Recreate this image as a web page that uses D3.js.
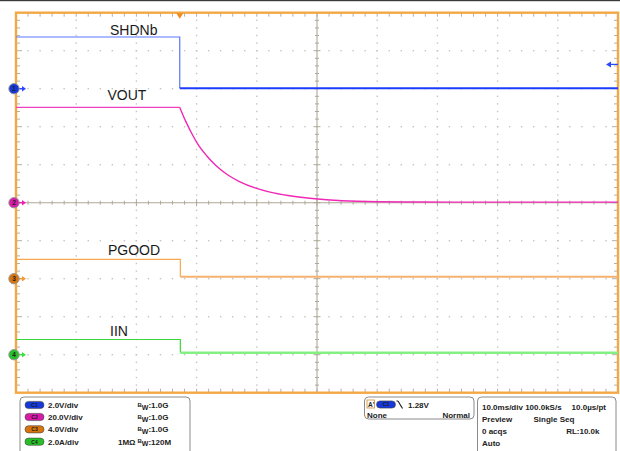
<!DOCTYPE html>
<html>
<head>
<meta charset="utf-8">
<script src="https://cdn.jsdelivr.net/npm/d3@7"></script>
<style>
  html, body { margin: 0; padding: 0; background: #fff; }
  svg { display: block; font-family: "Liberation Sans", Arial, sans-serif; }
</style>
</head>
<body>
<div id="scope"></div>
<script>
(function(){

// channel settings
var chNames   = ["C1", "C2", "C3", "C4"];
var chLabels  = ["SHDNb", "VOUT", "PGOOD", "IIN"];
var chColors  = ["#2a48ff", "#f020b4", "#f39a38", "#3ee03e"];
var chBadge   = ["#1638d8", "#d81aa8", "#d8740e", "#28c028"];
var chPerDiv  = [2.0, 20.0, 4.0, 2.0];       // units per division
var chOffset  = [3, 0, -2, -4];              // ground marker, divisions from centre
var chUnits   = ["V/div", "V/div", "V/div", "A/div"];
var chBw      = ["1.0G", "1.0G", "1.0G", "120M"];

// time window (ms, trigger at 0), 10 ms/div
var timeRange = [-27.2, 72.8];

// traces
var shdnT = [-27.2, 0, 0, 72.8];
var shdnV = [2.72, 2.72, 0.02, 0.02];

var voutT = [-27.2, 0, 1, 2, 3, 4.5, 6, 8, 10, 12.5, 15, 18, 22, 27, 33, 40, 50, 72.8];
var voutV = [50.2, 50.2, 42.8, 36.4, 30.8, 24.6, 19.6, 14.6, 11.0, 7.8, 5.6, 3.8, 2.2, 1.0, 0.5, 0.35, 0.3, 0.3];

var pgoodT = [-27.2, 0.1, 0.1, 72.8];
var pgoodV = [2.04, 2.04, 0.2, 0.2];

var iinT = [-27.2, 0.1, 0.1, 72.8];
var iinV = [0.8, 0.8, 0.1, 0.1];

var trigLevel = 1.28;

var W = 620, H = 451;
var plot = {left: 16, right: 618, top: 12.7, bottom: 392.7};

var svg = d3.select("#scope").append("svg")
  .attr("width", W).attr("height", H);

var x = d3.scaleLinear().domain(timeRange).range([plot.left, plot.right]);
var yDiv = d3.scaleLinear().domain([-5, 5]).range([plot.bottom, plot.top]);
var xDiv = d3.scaleLinear().domain([0, 10]).range([plot.left, plot.right]);

function yCh(i) {
  return function(v) { return yDiv(chOffset[i] + v / chPerDiv[i]); };
}

// top dark edge
svg.append("rect").attr("x", 0).attr("y", 0).attr("width", W).attr("height", 1.2).attr("fill", "#3a3a3a");

var grid = svg.append("g");

// dotted graticule
var sub = d3.range(1, 50);
[1,2,3,4,6,7,8,9].forEach(function(d){
  grid.selectAll(null).data(sub).enter().append("rect")
    .attr("x", function(k){ return xDiv(k / 5) - 0.7; })
    .attr("y", yDiv(d - 5) - 0.7)
    .attr("width", 1.4).attr("height", 1.4)
    .attr("fill", "#c4c4c4");
  grid.selectAll(null).data(sub).enter().append("rect")
    .attr("x", xDiv(d) - 0.7)
    .attr("y", function(k){ return yDiv(k / 5 - 5) - 0.7; })
    .attr("width", 1.4).attr("height", 1.4)
    .attr("fill", "#c4c4c4");
});

// centre cross
var cx = xDiv(5), cy = yDiv(0);
grid.append("line").attr("x1", plot.left).attr("x2", plot.right).attr("y1", cy).attr("y2", cy)
  .attr("stroke", "#b0a898").attr("stroke-width", 1.1);
grid.append("line").attr("y1", plot.top).attr("y2", plot.bottom).attr("x1", cx).attr("x2", cx)
  .attr("stroke", "#b0a898").attr("stroke-width", 1.1);
grid.selectAll(null).data(sub).enter().append("line")
  .attr("x1", function(k){ return xDiv(k / 5); })
  .attr("x2", function(k){ return xDiv(k / 5); })
  .attr("y1", function(k){ return cy - (k % 5 ? 2 : 3.5); })
  .attr("y2", function(k){ return cy + (k % 5 ? 2 : 3.5); })
  .attr("stroke", "#b0a898");
grid.selectAll(null).data(sub).enter().append("line")
  .attr("y1", function(k){ return yDiv(k / 5 - 5); })
  .attr("y2", function(k){ return yDiv(k / 5 - 5); })
  .attr("x1", function(k){ return cx - (k % 5 ? 2 : 3.5); })
  .attr("x2", function(k){ return cx + (k % 5 ? 2 : 3.5); })
  .attr("stroke", "#b0a898");

// border ticks
grid.selectAll(null).data(sub).enter().append("line")
  .attr("x1", function(k){ return xDiv(k / 5); })
  .attr("x2", function(k){ return xDiv(k / 5); })
  .attr("y1", plot.top).attr("y2", plot.top + 4)
  .attr("stroke", "#b0b0b0");
grid.selectAll(null).data(sub).enter().append("line")
  .attr("x1", function(k){ return xDiv(k / 5); })
  .attr("x2", function(k){ return xDiv(k / 5); })
  .attr("y1", plot.bottom).attr("y2", plot.bottom - 4)
  .attr("stroke", "#b0b0b0");
grid.selectAll(null).data(sub).enter().append("line")
  .attr("y1", function(k){ return yDiv(k / 5 - 5); })
  .attr("y2", function(k){ return yDiv(k / 5 - 5); })
  .attr("x1", plot.left).attr("x2", function(k){ return plot.left + (k % 5 ? 4 : 6); })
  .attr("stroke", "#b0b0b0");
grid.selectAll(null).data(sub).enter().append("line")
  .attr("y1", function(k){ return yDiv(k / 5 - 5); })
  .attr("y2", function(k){ return yDiv(k / 5 - 5); })
  .attr("x1", plot.right).attr("x2", function(k){ return plot.right - (k % 5 ? 4 : 6); })
  .attr("stroke", "#b0b0b0");

// orange frame
svg.append("rect")
  .attr("x", plot.left).attr("y", plot.top)
  .attr("width", plot.right - plot.left).attr("height", plot.bottom - plot.top)
  .attr("fill", "none").attr("stroke", "#f2a844").attr("stroke-width", 2.4);

// traces
var traces = [[shdnT, shdnV], [voutT, voutV], [pgoodT, pgoodV], [iinT, iinV]];
var preColor  = ["#5a76ff", "#f040c0", "#f7a850", "#3ad83a"];
var postColor = ["#1c3cff", "#f028b6", "#f6b070", "#84f084"];
var postWidth = [2, 1.4, 2, 2.6];

traces.forEach(function(tr, i){
  var pts = tr[0].map(function(t, j){ return [t, tr[1][j]]; });
  var yy = yCh(i);
  var line = d3.line()
    .x(function(d){ return x(d[0]); })
    .y(function(d){ return yy(d[1]); })
    .curve(i === 1 ? d3.curveMonotoneX : d3.curveLinear);
  var prePts = pts.slice(0, i === 1 ? 2 : 3);
  var postPts = pts.slice(i === 1 ? 1 : 2);
  svg.append("path").attr("d", d3.line()
      .x(function(d){ return x(d[0]); })
      .y(function(d){ return yy(d[1]); })(prePts))
    .attr("fill", "none").attr("stroke", preColor[i]).attr("stroke-width", 1.2);
  svg.append("path").attr("d", line(postPts))
    .attr("fill", "none").attr("stroke", postColor[i]).attr("stroke-width", postWidth[i]);
  if (i === 0 || i === 2) {
    // darker core on the settled level
    svg.append("path").attr("d", line(postPts.slice(1)))
      .attr("fill", "none").attr("stroke", i === 0 ? "#1030f0" : "#e88a2a")
      .attr("stroke-width", 0.8).attr("stroke-dasharray", "6,2,3,3");
  }
});

// channel labels
var labelX = [110, 107.5, 108, 110];
var labelY = [35, 100, 255, 336];
svg.selectAll("text.lbl").data(chLabels).enter().append("text")
  .attr("class", "lbl")
  .attr("x", function(d, i){ return labelX[i]; })
  .attr("y", function(d, i){ return labelY[i]; })
  .attr("font-size", "14px").attr("fill", "#1a1a1a")
  .text(function(d){ return d; });

// ground markers
chNames.forEach(function(n, i){
  var gy = yDiv(chOffset[i]);
  var g = svg.append("g");
  g.append("line").attr("x1", 17).attr("x2", 24).attr("y1", gy).attr("y2", gy)
    .attr("stroke", chColors[i]).attr("stroke-width", 1.4);
  g.append("path").attr("d", "M22," + (gy - 2.8) + "L26," + gy + "L22," + (gy + 2.8) + "Z")
    .attr("fill", chColors[i]);
  g.append("circle").attr("cx", 14).attr("cy", gy).attr("r", 5.2)
    .attr("fill", chBadge[i]).attr("stroke", "#9a9a9a").attr("stroke-width", 1);
  g.append("text").attr("x", 14).attr("y", gy + 2.3).attr("text-anchor", "middle")
    .attr("font-size", "6.5px").attr("font-weight", "bold").attr("fill", "#222")
    .text(i + 1);
});

// trigger position
var tx = x(0);
svg.append("path").attr("d", "M" + (tx - 3.5) + "," + (plot.top + 0.5) + "L" + (tx + 3.5) + "," + (plot.top + 0.5) + "L" + tx + "," + (plot.top + 6) + "Z")
  .attr("fill", "#f28a20");

// trigger level arrow (right)
var ty = yCh(0)(trigLevel);
svg.append("line").attr("x1", 610).attr("x2", 618).attr("y1", ty).attr("y2", ty)
  .attr("stroke", "#2a48ff").attr("stroke-width", 1.2);
svg.append("path").attr("d", "M606," + ty + "L611," + (ty - 3) + "L611," + (ty + 3) + "Z")
  .attr("fill", "#2a48ff");

// ----- readout panel -----
var panel = svg.append("g").attr("font-size", "8px").attr("font-weight", "bold").attr("fill", "#222");

function box(x0, y0, w, h) {
  panel.append("rect").attr("x", x0).attr("y", y0).attr("width", w).attr("height", h)
    .attr("rx", 4).attr("fill", "#fff").attr("stroke", "#8a8a8a").attr("stroke-width", 1);
}
function badge(x0, yc, i) {
  panel.append("rect").attr("x", x0).attr("y", yc - 3.6).attr("width", 19).attr("height", 7.2)
    .attr("rx", 3.6).attr("fill", chBadge[i]).attr("stroke", "#444").attr("stroke-width", 0.6);
  panel.append("text").attr("x", x0 + 9.5).attr("y", yc + 1.9).attr("text-anchor", "middle")
    .attr("font-size", "5px").attr("fill", "#1a1a1a").text(chNames[i]);
}

box(20, 397, 170, 60);
var rowY = [405, 417, 429.3, 441.7];
chNames.forEach(function(n, i){
  badge(25, rowY[i], i);
  panel.append("text").attr("x", 48).attr("y", rowY[i] + 3)
    .text(chPerDiv[i].toFixed(1) + chUnits[i]);
  var t = panel.append("text").attr("x", 137.5).attr("y", rowY[i] + 3);
  t.append("tspan").attr("font-size", "6px").attr("dy", -1.5).text("B");
  t.append("tspan").attr("font-size", "7px").attr("dy", 3).text("W");
  t.append("tspan").attr("dy", -1.5).text(":" + chBw[i]);
});
panel.append("text").attr("x", 118).attr("y", rowY[3] + 3).text("1M\u03A9");

// trigger box
box(364.5, 397, 109.5, 22);
panel.append("rect").attr("x", 367).attr("y", 400).attr("width", 7.5).attr("height", 8)
  .attr("fill", "#fff").attr("stroke", "#d08a30").attr("stroke-width", 0.8);
panel.append("text").attr("x", 368).attr("y", 406.5).attr("font-size", "6.5px").text("A'");
badge(376.5, 404.5, 0);
panel.append("path").attr("d", "M398,401 L402.5,408.5").attr("stroke", "#222").attr("stroke-width", 1.2);
panel.append("path").attr("d", "M396.5,401 L398,401").attr("stroke", "#222").attr("stroke-width", 1.2);
panel.append("text").attr("x", 408).attr("y", 408).text(trigLevel.toFixed(2) + "V");
panel.append("text").attr("x", 367).attr("y", 417.5).text("None");
panel.append("text").attr("x", 470).attr("y", 417.5).attr("text-anchor", "end").text("Normal");

// acquisition box
box(477.5, 397, 138.5, 60);
panel.append("text").attr("x", 482).attr("y", 409.5).text("10.0ms/div 100.0kS/s");
panel.append("text").attr("x", 606).attr("y", 409.5).attr("text-anchor", "end").text("10.0\u00B5s/pt");
panel.append("text").attr("x", 482).attr("y", 421.5).text("Preview");
panel.append("text").attr("x", 533.5).attr("y", 421.5).text("Single Seq");
panel.append("text").attr("x", 482).attr("y", 434).text("0 acqs");
panel.append("text").attr("x", 599.5).attr("y", 434).attr("text-anchor", "end").text("RL:10.0k");
panel.append("text").attr("x", 482).attr("y", 446).text("Auto");

})();
</script>
</body>
</html>
